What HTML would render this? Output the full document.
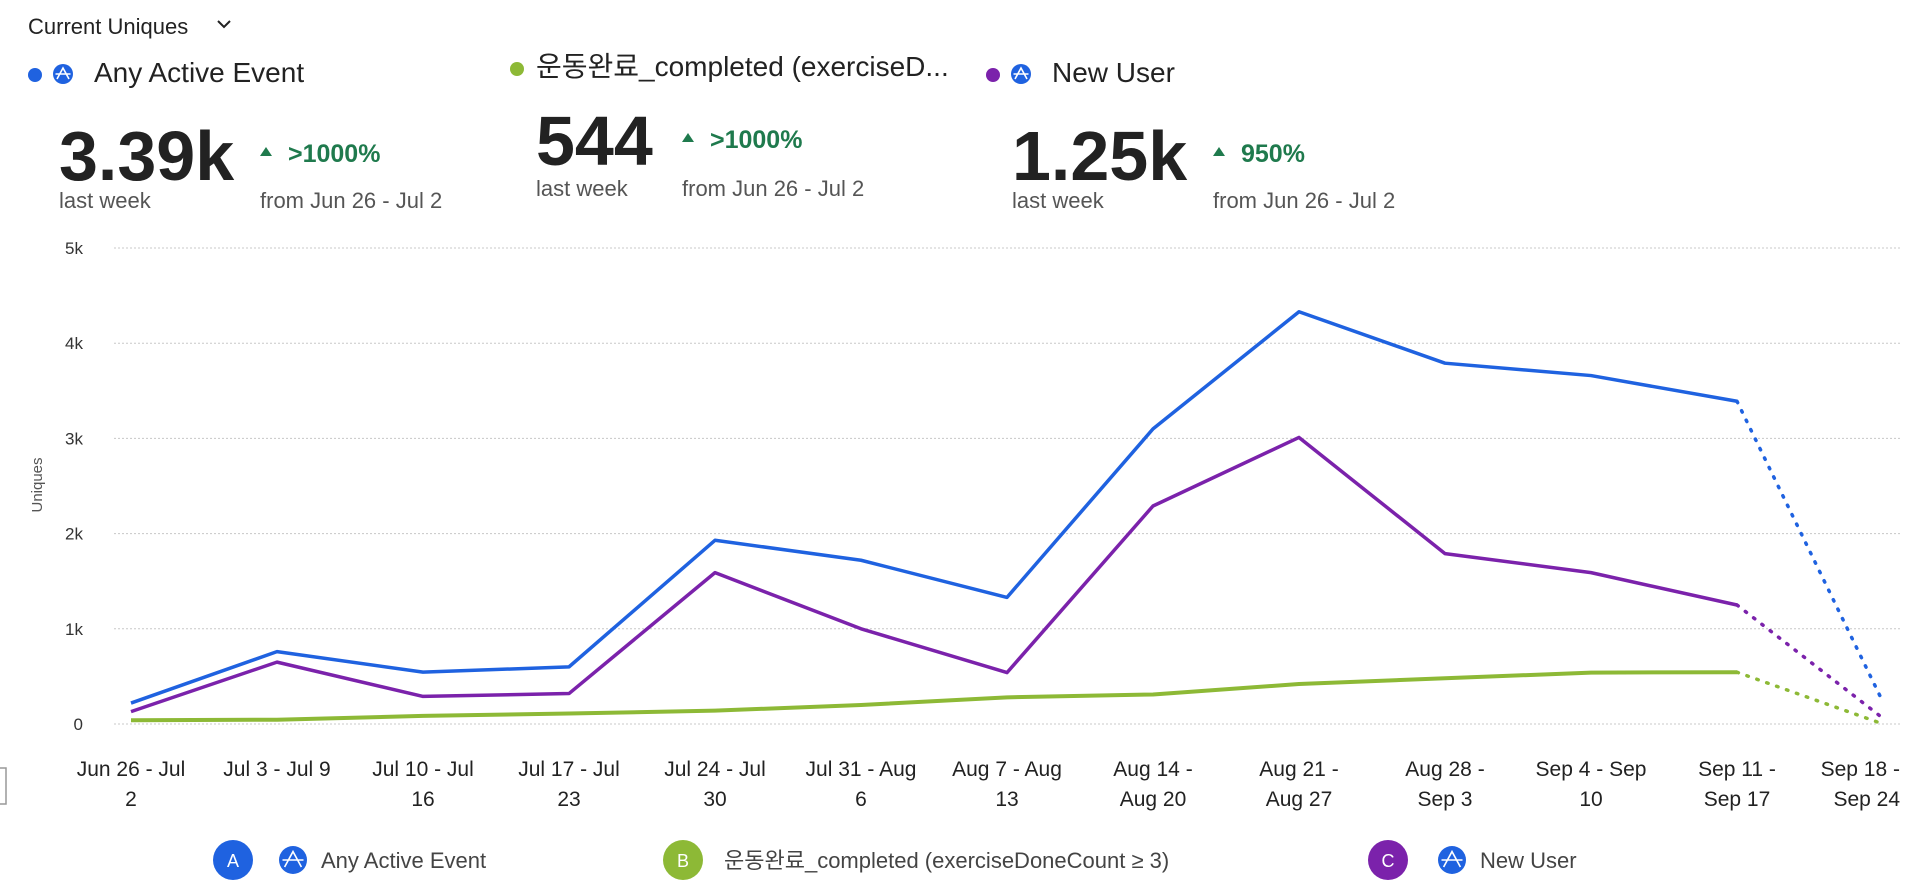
<!DOCTYPE html>
<html><head><meta charset="utf-8"><style>
body{margin:0;width:1924px;height:892px;background:#fff;overflow:hidden;font-family:"Liberation Sans","Noto Sans CJK KR",sans-serif;}
svg{position:absolute;left:0;top:0}
</style></head><body>
<svg id="c" width="1924" height="892" font-family="Liberation Sans, Noto Sans CJK KR, sans-serif">
<g>
<text x="28" y="34" font-size="22" fill="#222">Current Uniques</text>
<path d="M218 21 l6 6 l6 -6" stroke="#222" stroke-width="2" fill="none"/>
</g>
<g id="hdr"></g>
<g id="grid"></g>
<g id="plot"></g>
<g id="xl"></g>
<rect x="-6" y="768" width="12" height="36" fill="none" stroke="#999" stroke-width="1.5"/>
<text transform="translate(42,485) rotate(-90)" text-anchor="middle" font-size="15" fill="#555">Uniques</text>
<g id="leg"></g>
</svg>
<script>
const categories=[["Jun 26 - Jul","2"],["Jul 3 - Jul 9",""],["Jul 10 - Jul","16"],["Jul 17 - Jul","23"],["Jul 24 - Jul","30"],["Jul 31 - Aug","6"],["Aug 7 - Aug","13"],["Aug 14 -","Aug 20"],["Aug 21 -","Aug 27"],["Aug 28 -","Sep 3"],["Sep 4 - Sep","10"],["Sep 11 -","Sep 17"],["Sep 18 -","Sep 24"]];
const anyActive=[220,760,545,600,1930,1720,1330,3100,4330,3790,3660,3390,230];
const completed=[40,45,85,110,140,200,280,310,420,480,540,544,0];
const newUser=[130,650,290,320,1590,1000,540,2290,3010,1790,1590,1250,60];
const yTicks=[0,1000,2000,3000,4000,5000];
const yTickLabels=["0","1k","2k","3k","4k","5k"];
const NS="http://www.w3.org/2000/svg";
function el(t,a,p){const e=document.createElementNS(NS,t);for(const k in a)e.setAttribute(k,a[k]);p.appendChild(e);return e;}
const X=i=>131+i*(1883-131)/12;
const Y=v=>724-v*(724-248)/5000;
const grid=document.getElementById('grid'),plot=document.getElementById('plot'),xl=document.getElementById('xl'),leg=document.getElementById('leg'),hdr=document.getElementById('hdr');
yTicks.forEach((v,i)=>{
 const l=el('line',{x1:114,x2:1902,y1:Y(v),y2:Y(v),stroke:'#c8c8c8','stroke-dasharray':'2,2'},grid);
 
 
 const t=el('text',{x:83,y:Y(v)+6,'text-anchor':'end','font-size':17,fill:'#333'},grid);t.textContent=yTickLabels[i];
 
 
});
categories.forEach((c,i)=>{
 const last=i===categories.length-1;
 c.forEach((s,j)=>{if(!s)return;const t=el('text',{x:last?1900:X(i),y:776+j*30,'text-anchor':last?'end':'middle','font-size':21,fill:'#222'},xl);t.textContent=s;
 
 });
});
function series(vals,color,w,name){
 const n=vals.length;
 const solid=vals.slice(0,n-1).map((v,i)=>X(i)+','+Y(v)).join(' ');
 const p=el('polyline',{points:solid,fill:'none',stroke:color,'stroke-width':w,'stroke-linejoin':'round'},plot);
 
 
 const d=el('line',{x1:X(n-2),y1:Y(vals[n-2]),x2:X(n-1),y2:Y(vals[n-1]),stroke:color,'stroke-width':3.5,'stroke-dasharray':'1.5,9','stroke-linecap':'round'},plot);
 
 
}
series(completed,'#8db936',4,'completed');
series(newUser,'#7b22ab',3.5,'new-user');
series(anyActive,'#1f62e0',3.5,'any-active');
function icon(cx,cy,r,parent){
 const g=el('g',{},parent);
 
 
 el('circle',{cx,cy,r,fill:'#1f62e0'},g);
 el('path',{d:`M${cx-r*0.6} ${cy+r*0.5} L${cx} ${cy-r*0.6} L${cx+r*0.6} ${cy+r*0.5} M${cx-r*0.75} ${cy} h${r*1.5}`,stroke:'#fff','stroke-width':1.6,fill:'none'},g);
}
const heads=[
 {x:28,y:82,color:'#1f62e0',icon:true,label:'Any Active Event',big:'3.39k',bigY:180,pctX:260,pctY:162,pct:'>1000%',lwY:208},
 {x:510,y:76,color:'#8db936',icon:false,label:'운동완료_completed (exerciseD...',big:'544',bigY:165,pctX:682,pctY:148,pct:'>1000%',lwY:196},
 {x:986,y:82,color:'#7b22ab',icon:true,label:'New User',big:'1.25k',bigY:180,pctX:1213,pctY:162,pct:'950%',lwY:208}];
heads.forEach(h=>{
 const g=el('g',{},hdr);
 
 
 el('circle',{cx:h.x+7,cy:h.y-7,r:7,fill:h.color},g);
 let tx=h.x+26;
 if(h.icon){icon(h.x+35,h.y-8,10,g);tx=h.x+66;}
 const t=el('text',{x:tx,y:h.y,'font-size':28,fill:'#222'},g);t.textContent=h.label;
 const bx=h.x===28?59:h.x+26;
 const b=el('text',{x:bx,y:h.bigY,'font-size':70,'font-weight':'bold',fill:'#222'},g);b.textContent=h.big;
 const lw=el('text',{x:bx,y:h.lwY,'font-size':22,fill:'#555'},g);lw.textContent='last week';
 el('path',{d:`M${h.pctX} ${h.pctY-6} l6 -9 l6 9z`,fill:'#1f7a4d'},g);
 const p=el('text',{x:h.pctX+28,y:h.pctY,'font-size':25,'font-weight':'bold',fill:'#1f7a4d'},g);p.textContent=h.pct;
 const f=el('text',{x:h.pctX,y:h.lwY,'font-size':22,fill:'#555'},g);f.textContent='from Jun 26 - Jul 2';
});
const legItems=[{x:233,letter:'A',color:'#1f62e0',icon:true,tx:321,label:'Any Active Event'},{x:683,letter:'B',color:'#8db936',icon:false,tx:724,label:'운동완료_completed (exerciseDoneCount ≥ 3)'},{x:1388,letter:'C',color:'#7b22ab',icon:true,tx:1480,label:'New User'}];
legItems.forEach(l=>{
 const g=el('g',{},leg);
 
 
 el('circle',{cx:l.x,cy:860,r:20,fill:l.color},g);
 const a=el('text',{x:l.x,y:867,'text-anchor':'middle','font-size':18,fill:'#fff'},g);a.textContent=l.letter;
 if(l.icon)icon(l.tx-28,860,14,g);
 const t=el('text',{x:l.tx,y:868,'font-size':22,fill:'#444'},g);t.textContent=l.label;
});
</script>
</body></html>
